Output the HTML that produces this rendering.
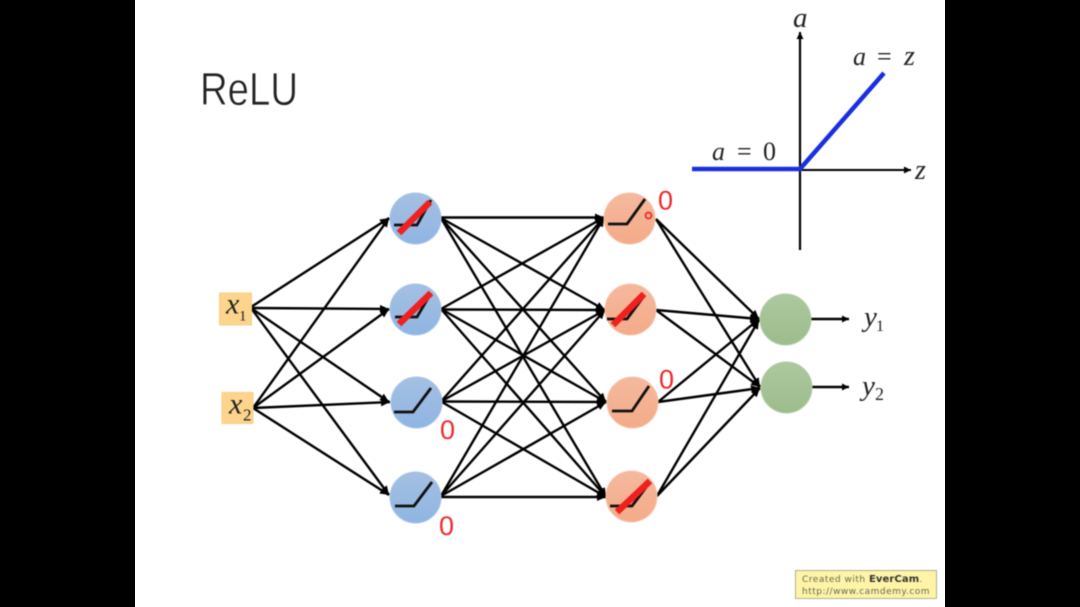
<!DOCTYPE html>
<html><head><meta charset="utf-8"><style>
html,body{margin:0;padding:0;width:1080px;height:607px;overflow:hidden}
html{background:linear-gradient(to right,#000 135px,#fff 135px,#fff 945px,#000 945px)}
body{background:transparent}
svg{display:block;filter:blur(.45px)}
.m{font-family:"Liberation Serif",serif;font-style:italic;fill:#222}
.u{font-family:"Liberation Serif",serif;fill:#222}
.z{font-family:"Liberation Sans",sans-serif;fill:#ee2a2a;font-size:27px}
</style></head><body>
<svg width="1080" height="607" viewBox="0 0 1080 607" xmlns="http://www.w3.org/2000/svg">
<defs>
<marker id="a" markerUnits="userSpaceOnUse" markerWidth="10" markerHeight="8" refX="9" refY="4" orient="auto"><path d="M0 0L9 4L0 8z" fill="#000"/></marker>
<marker id="s" markerUnits="userSpaceOnUse" markerWidth="8" markerHeight="7" refX="7" refY="3.500" orient="auto"><path d="M0 0L7 3.500L0 7z" fill="#000"/></marker>
<linearGradient id="b" x1="0" y1="0" x2="0" y2="1"><stop offset="0" stop-color="#a5c0e2"/><stop offset="1" stop-color="#8fb5e3"/></linearGradient>
<linearGradient id="o" x1="0" y1="0" x2="0" y2="1"><stop offset="0" stop-color="#f5b99e"/><stop offset="1" stop-color="#f4ab88"/></linearGradient>
<linearGradient id="g" x1="0" y1="0" x2="0" y2="1"><stop offset="0" stop-color="#acc89f"/><stop offset="1" stop-color="#9dbd8c"/></linearGradient>
</defs>
<text x="200" y="105" font-family="Liberation Sans,sans-serif" font-size="46" fill="#222" stroke="#fff" stroke-width=".7" textLength="98" lengthAdjust="spacingAndGlyphs">ReLU</text>

<g stroke="#000" stroke-width="2.400" fill="none">
<path d="M251 307L389 218" marker-end="url(#a)"/><path d="M251 308L389 309" marker-end="url(#a)"/><path d="M251 308L389 402" marker-end="url(#a)"/><path d="M251 308L389 495" marker-end="url(#a)"/>
<path d="M253 408L389 218" marker-end="url(#a)"/><path d="M253 408L389 309" marker-end="url(#a)"/><path d="M253 408L390 402" marker-end="url(#a)"/><path d="M253 408L389 495" marker-end="url(#a)"/>
<path d="M441 217.500L604 217.500" marker-end="url(#a)"/><path d="M441 218L605 310" marker-end="url(#a)"/><path d="M441 218L606 402" marker-end="url(#a)"/><path d="M441 218L606 497" marker-end="url(#a)"/>
<path d="M441 309L604 217.500" marker-end="url(#a)"/><path d="M441 309.500L605 310" marker-end="url(#a)"/><path d="M441 309L606 402" marker-end="url(#a)"/><path d="M441 309L606 497" marker-end="url(#a)"/>
<path d="M441 401.500L604 217.500" marker-end="url(#a)"/><path d="M441 401.500L605 310" marker-end="url(#a)"/><path d="M441 401.500L606 402" marker-end="url(#a)"/><path d="M441 401.500L606 497" marker-end="url(#a)"/>
<path d="M441 496L604 217.500" marker-end="url(#a)"/><path d="M441 496L605 310" marker-end="url(#a)"/><path d="M441 496L606 402" marker-end="url(#a)"/><path d="M441 497L606 497" marker-end="url(#a)"/>
<path d="M656 219L759 319" marker-end="url(#a)"/><path d="M656 219L760 387" marker-end="url(#a)"/>
<path d="M656 310L759 319" marker-end="url(#a)"/><path d="M656 310L760 387" marker-end="url(#a)"/>
<path d="M658 402L759 319" marker-end="url(#a)"/><path d="M658 402L760 388" marker-end="url(#a)"/>
<path d="M657 496L759 320" marker-end="url(#a)"/><path d="M657 496L760 388" marker-end="url(#a)"/>
<path d="M811 319L849 319" marker-end="url(#s)"/><path d="M812 387L849 387" marker-end="url(#s)"/>
</g>

<rect x="219.500" y="293" width="32" height="32" fill="#fcd48c" stroke="#f8cf88"/>
<rect x="222" y="392.500" width="31" height="31" fill="#fcd48c" stroke="#f8cf88"/>
<text class="m" x="226" y="313.500" font-size="30">x</text><text class="u" x="239" y="320.500" font-size="15">1</text>
<text class="m" x="229" y="413.500" font-size="30">x</text><text class="u" x="243" y="420.500" font-size="17">2</text>

<g stroke-width="1">
<circle cx="415.500" cy="218.500" r="25.500" fill="url(#b)" stroke="#a8c4e8"/>
<circle cx="415.500" cy="309.500" r="25.500" fill="url(#b)" stroke="#a8c4e8"/>
<circle cx="416.500" cy="402.500" r="25.500" fill="url(#b)" stroke="#a8c4e8"/>
<circle cx="415.500" cy="497.500" r="25.500" fill="url(#b)" stroke="#a8c4e8"/>
<circle cx="629.500" cy="218.500" r="25.500" fill="url(#o)" stroke="#f6c3ab"/>
<circle cx="630.500" cy="309.500" r="25.500" fill="url(#o)" stroke="#f6c3ab"/>
<circle cx="632.500" cy="402.500" r="25.500" fill="url(#o)" stroke="#f6c3ab"/>
<circle cx="631.500" cy="496.500" r="25.500" fill="url(#o)" stroke="#f6c3ab"/>
<circle cx="785.500" cy="319.500" r="25.500" fill="url(#g)" stroke="#b3cda6"/>
<circle cx="786.500" cy="387.500" r="25.500" fill="url(#g)" stroke="#b3cda6"/>
</g>

<g stroke="#111" stroke-width="2.800" fill="none">
<path d="M394 225H417L431 200"/><path d="M395 317H417L431 293"/>
<path d="M394 412H413L431 388"/><path d="M395 506H414L432 482"/>
<path d="M608 224H627L645 199"/><path d="M607 319H627L644 296"/>
<path d="M612 411H632L649 386"/><path d="M610 506H632L650 482"/>
</g>
<g stroke="#f02020" stroke-width="6.500" fill="none">
<path d="M399 233L430 202"/><path d="M399 324L431 293"/>
<path d="M613 325L644 294"/><path d="M617 512L650 481"/>
</g>
<circle cx="648.500" cy="215.500" r="3" fill="none" stroke="#ee2a2a" stroke-width="1.800"/>

<text class="z" x="658" y="209.500">0</text>
<text class="z" x="440" y="439">0</text>
<text class="z" x="439" y="535">0</text>
<text class="z" x="659" y="388.500">0</text>

<text class="m" x="864" y="326" font-size="29">y</text><text class="u" x="876" y="331" font-size="16">1</text>
<text class="m" x="862" y="395" font-size="29">y</text><text class="u" x="875" y="400" font-size="18">2</text>

<path d="M800 250V32" stroke="#000" stroke-width="2.200" fill="none" marker-end="url(#s)"/>
<path d="M800 170H911" stroke="#000" stroke-width="2" fill="none" marker-end="url(#s)"/>
<path d="M692 169H800L884 73" stroke="#1a2ee0" stroke-width="4.500" fill="none"/>
<text class="m" x="793" y="27" font-size="29">a</text>
<text class="m" x="853" y="65" font-size="26">a</text><text class="u" x="877" y="65" font-size="26">=</text><text class="m" x="904" y="65" font-size="28">z</text>
<text class="m" x="712" y="160" font-size="26">a</text><text class="u" x="737" y="160" font-size="26">=</text><text class="u" x="763" y="160" font-size="26">0</text>
<text class="m" x="915" y="179" font-size="28">z</text>

<rect x="795.500" y="570.500" width="141" height="28" fill="#fdf4a8" stroke="#b5b08a"/>
<text x="802" y="582" font-family="DejaVu Sans,sans-serif" font-size="9" fill="#6b6a50" letter-spacing=".5">Created with <tspan font-weight="bold" fill="#333" font-size="10" letter-spacing=".1">EverCam</tspan>.</text>
<text x="802" y="594" font-family="DejaVu Sans,sans-serif" font-size="9" fill="#6b6a50" letter-spacing=".5">http://www.camdemy.com</text>
</svg>
</body></html>
